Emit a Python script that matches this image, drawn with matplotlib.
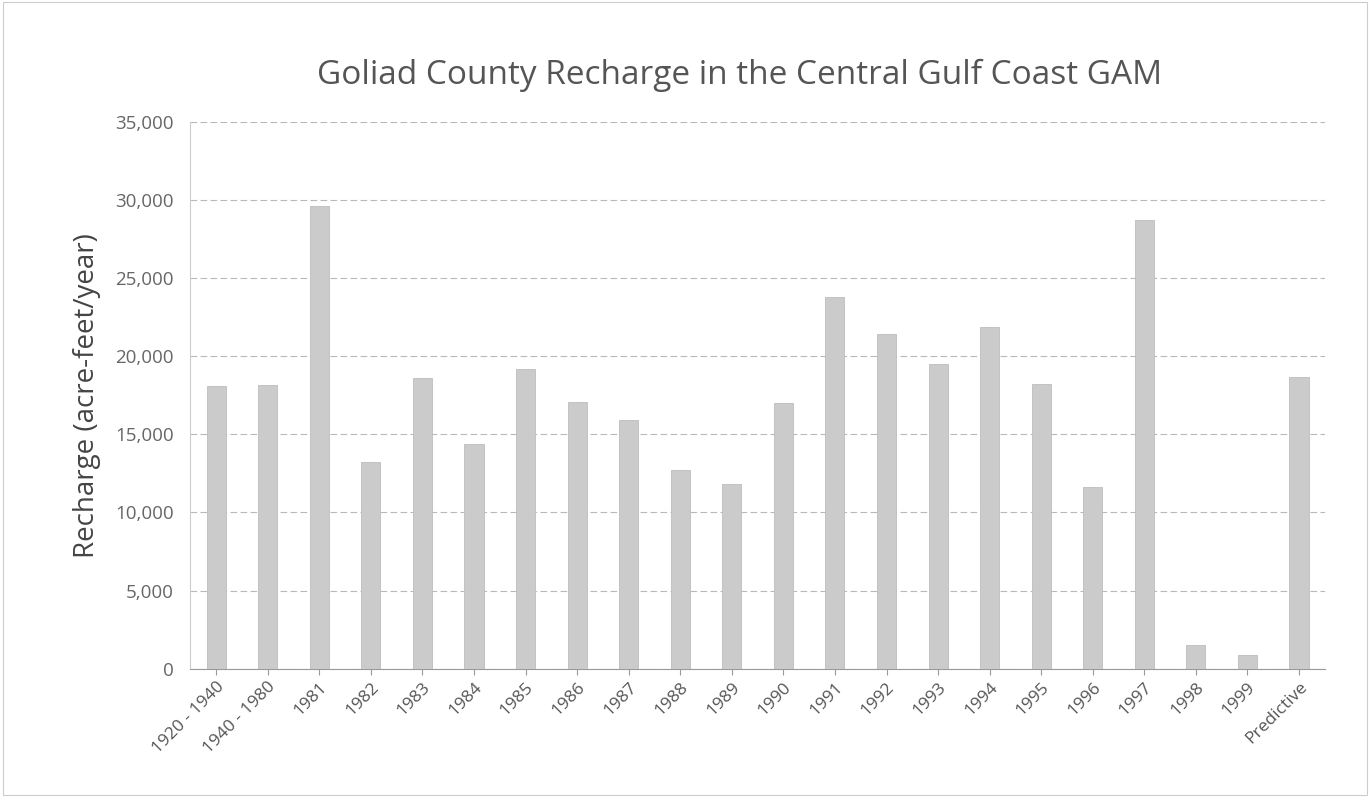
import matplotlib.pyplot as plt
from matplotlib.ticker import FuncFormatter

# dados
categorias = ['1920 - 1940', '1940 - 1980', '1981', '1982', '1983', '1984', '1985',
              '1986', '1987', '1988', '1989', '1990', '1991', '1992', '1993', '1994',
              '1995', '1996', '1997', '1998', '1999', 'Predictive']
recarga = [18100, 18150, 29600, 13200, 18600, 14400, 19200, 17100, 15900, 12700,
           11800, 17000, 23800, 21400, 19500, 21900, 18200, 11600, 28700, 1500,
           900, 18700]
y_ticks = [0, 5000, 10000, 15000, 20000, 25000, 30000, 35000]

plt.rcParams['font.family'] = ['Open Sans', 'DejaVu Sans']

fig = plt.figure(figsize=(13.7, 7.97), dpi=100)
ax = fig.add_axes([0.139, 0.161, 0.828, 0.686])

x = range(len(categorias))
ax.bar(x, recarga, width=0.37, color='#cbcbcb', edgecolor='#bdbdbd', linewidth=0.6, zorder=3)

ax.set_ylim(0, 35000)
ax.set_xlim(-0.5, len(categorias) - 0.5)
ax.set_yticks(y_ticks)
ax.yaxis.set_major_formatter(FuncFormatter(lambda v, p: f'{int(v):,}'))
ax.grid(axis='y', linestyle=(0, (6, 3)), color='#b8b8b8', linewidth=0.8, zorder=0)

ax.set_xticks(list(x))
ax.set_xticklabels(categorias, rotation=45, ha='right', rotation_mode='anchor',
                   fontsize=12.5, color='#555555')
ax.tick_params(axis='y', length=0, labelsize=13.5, labelcolor='#666666', pad=12)
ax.tick_params(axis='x', length=4, color='#999999')
for s in ['top', 'right']:
    ax.spines[s].set_visible(False)
ax.spines['left'].set_color('#cccccc')
ax.spines['bottom'].set_color('#999999')

ax.set_ylabel('Recharge (acre-feet/year)', fontsize=20, color='#444444', labelpad=10)
fig.text(0.54, 0.905, 'Goliad County Recharge in the Central Gulf Coast GAM',
         ha='center', va='center', fontsize=24, color='#555555')

fig.patches.append(plt.Rectangle((0.002, 0.002), 0.996, 0.996, transform=fig.transFigure,
                                 fill=False, edgecolor='#cccccc', linewidth=0.8))

plt.savefig('out.png')
